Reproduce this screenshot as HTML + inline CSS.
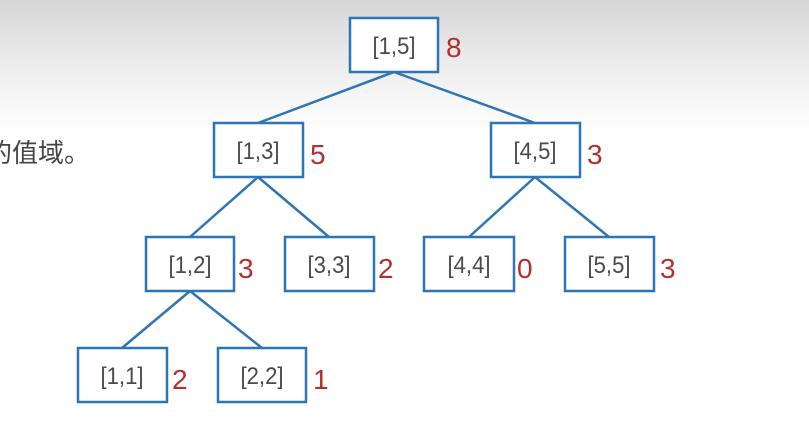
<!DOCTYPE html>
<html><head><meta charset="utf-8"><style>
html,body{margin:0;padding:0}
body{width:809px;height:429px;overflow:hidden;background:linear-gradient(#d6d6d6 0px,#ebebeb 60px,#fafafa 110px,#fff 140px);position:relative;font-family:"Liberation Sans",sans-serif}
</style></head><body>
<svg width="809" height="429" style="position:absolute;left:0;top:0">
<g stroke="#2e75b6" stroke-width="2.5" fill="none">
<line x1="394" y1="72" x2="258" y2="123"/>
<line x1="394" y1="72" x2="535" y2="123"/>
<line x1="258" y1="177" x2="190" y2="237"/>
<line x1="258" y1="177" x2="329" y2="237"/>
<line x1="535" y1="177" x2="469" y2="237"/>
<line x1="535" y1="177" x2="609" y2="237"/>
<line x1="190" y1="291" x2="122" y2="348"/>
<line x1="190" y1="291" x2="262" y2="348"/>
</g>
<g stroke="#2e75b6" stroke-width="2.5" fill="#fff">
<rect x="350" y="18" width="88" height="54"/>
<rect x="214" y="123" width="89" height="54"/>
<rect x="491" y="123" width="89" height="54"/>
<rect x="146" y="237" width="88" height="54"/>
<rect x="285" y="237" width="89" height="54"/>
<rect x="424" y="237" width="90" height="54"/>
<rect x="565" y="237" width="89" height="54"/>
<rect x="78" y="348" width="89" height="54"/>
<rect x="218" y="348" width="88" height="54"/>
</g>
<g font-family="Liberation Sans, sans-serif" font-size="24" fill="#4a4a4a" text-anchor="middle">
<text transform="translate(394,54) scale(0.92,1)">[1,5]</text>
<text transform="translate(258,159) scale(0.92,1)">[1,3]</text>
<text transform="translate(535,159) scale(0.92,1)">[4,5]</text>
<text transform="translate(190,273) scale(0.92,1)">[1,2]</text>
<text transform="translate(329,273) scale(0.92,1)">[3,3]</text>
<text transform="translate(469,273) scale(0.92,1)">[4,4]</text>
<text transform="translate(609,273) scale(0.92,1)">[5,5]</text>
<text transform="translate(122,384) scale(0.92,1)">[1,1]</text>
<text transform="translate(262,384) scale(0.92,1)">[2,2]</text>
</g>
<g font-family="Liberation Sans, sans-serif" font-size="28" fill="#b03030">
<text x="446" y="57">8</text>
<text x="310" y="164">5</text>
<text x="587" y="164">3</text>
<text x="238" y="278">3</text>
<text x="378" y="278">2</text>
<text x="517" y="278">0</text>
<text x="660" y="278">3</text>
<text x="172" y="389">2</text>
<text x="313" y="389">1</text>
</g>
<text x="-14" y="162" font-family="Liberation Sans, Noto Sans CJK SC, sans-serif" font-size="26" fill="#444">的值域。</text>
</svg>
</body></html>
